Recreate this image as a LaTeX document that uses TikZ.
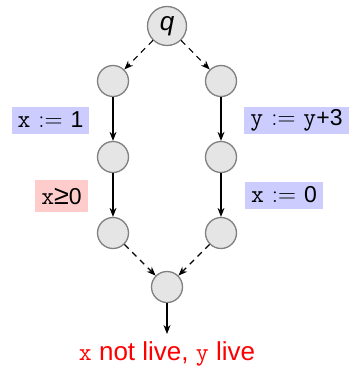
\documentclass[tikz,border=0pt]{standalone}
\usepackage{fontspec}
\setmainfont{Liberation Sans}
\usetikzlibrary{arrows.meta}
\newcommand{\tx}[1]{{\fontsize{25}{25}\selectfont\ttfamily #1}}
\newcommand{\asg}{{\fontsize{25}{25}\selectfont$:=$}}
\newcommand{\labfont}{\fontsize{23}{25}\selectfont}
\tikzset{
  pnode/.style={circle, draw=gray, fill=gray!20, line width=1.3pt, minimum size=31pt, inner sep=0pt},
  flow/.style={-{Stealth[length=9pt,width=7pt]}, line width=1.1pt},
  skip/.style={flow, dash pattern=on 6pt off 5pt},
  assign/.style={fill=blue!20, inner xsep=6pt, inner ysep=0pt, minimum height=27pt, font=\labfont},
  guard/.style={fill=red!20, inner xsep=6pt, inner ysep=0pt, minimum height=32pt, font=\labfont}
}
\begin{document}
\begin{tikzpicture}[x=1pt,y=-1pt]
                \useasboundingbox (0,0) rectangle (355,369);
                % Nodos
                \node[pnode, minimum size=39pt, font=\fontsize{26}{28}\selectfont\itshape] (q) at (167,26) {q};
                \node[pnode] (a1) at (113,81) {};
                \node[pnode] (a2) at (113,157) {};
                \node[pnode] (a3) at (113,233) {};
                \node[pnode] (b1) at (221,81) {};
                \node[pnode] (b2) at (221,157) {};
                \node[pnode] (b3) at (221,233) {};
                \node[pnode] (m) at (167,287) {};
                \coordinate (out) at (167,334);

                % Aristas
                \draw[skip] (q) -- (a1);
                \draw[skip] (q) -- (b1);
                \draw[flow] (a1) -- (a2);
                \draw[flow] (a2) -- (a3);
                \draw[flow] (b1) -- (b2);
                \draw[flow] (b2) -- (b3);
                \draw[skip] (a3) -- (m);
                \draw[skip] (b3) -- (m);
                \draw[flow] (m) -- (out);

                % Etiquetas
                \node[assign] (lx1) at (50.5,120) {\tx{x}\hspace{8pt}\asg\hspace{8pt}1};
                \node[assign] (ly3) at (296.5,120) {\tx{y}\hspace{8pt}\asg\hspace{8pt}\tx{y}+3};
                \node[guard] (gx0) at (61.5,196) {\tx{x}{\fontsize{27}{27}\selectfont ≥}0};
                \node[assign] (lx0) at (284,195) {\tx{x}\hspace{8pt}\asg\hspace{8pt}0};
                \node[text=red, font=\fontsize{26}{28}\selectfont] (live) at (167,354) {\tx{x} not live, \tx{y} live};
            \end{tikzpicture}
\end{document}
